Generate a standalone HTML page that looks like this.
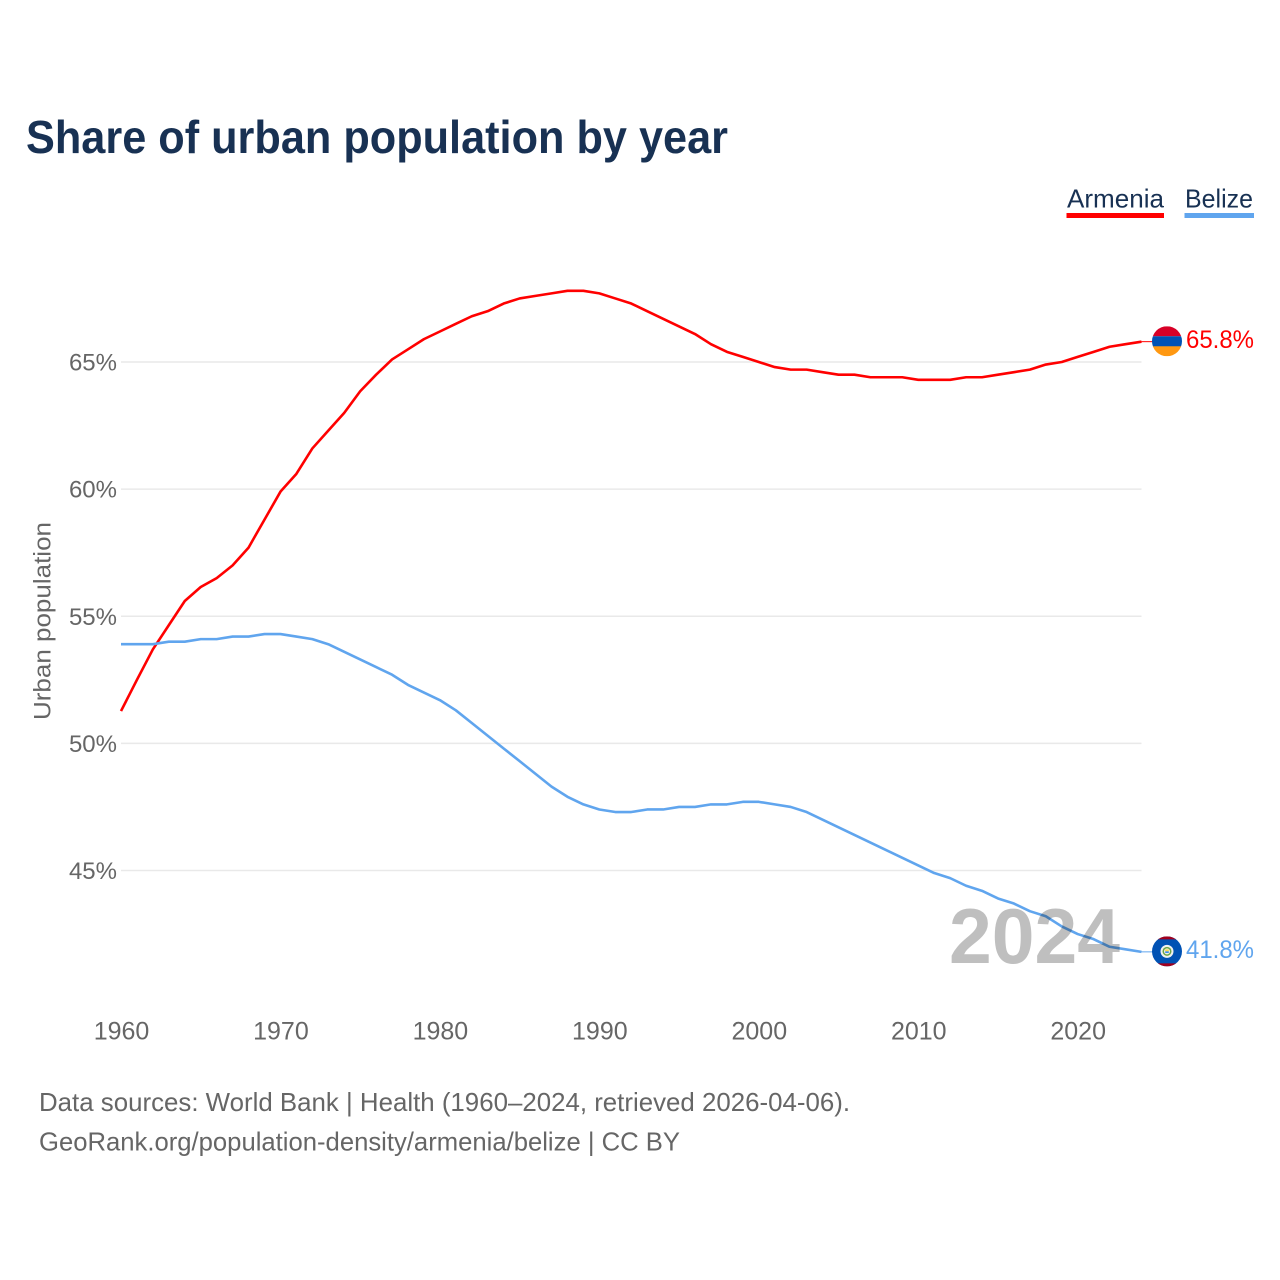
<!DOCTYPE html>
<html lang="en">
<head>
<meta charset="utf-8">
<title>Share of urban population by year</title>
<style>
html,body{margin:0;padding:0;background:#fff;}
svg{display:block;font-family:"Liberation Sans",sans-serif;}
</style>
</head>
<body>
<svg id="chart" xmlns="http://www.w3.org/2000/svg" width="1280" height="1280" viewBox="0 0 1280 1280">
  <rect x="0" y="0" width="1280" height="1280" fill="#ffffff"/>
  <text x="26" y="153" font-size="46" font-weight="700" fill="#183153" textLength="702" lengthAdjust="spacingAndGlyphs">Share of urban population by year</text>

  <g>
    <text x="1067" y="207.5" font-size="26" fill="#183153" textLength="97" lengthAdjust="spacingAndGlyphs">Armenia</text>
    <rect x="1066.5" y="213" width="97.5" height="5" fill="#ff0000"/>
  </g>
  <g>
    <text x="1185" y="207.5" font-size="26" fill="#183153" textLength="68" lengthAdjust="spacingAndGlyphs">Belize</text>
    <rect x="1184.5" y="213" width="69.5" height="5" fill="#60a5ee"/>
  </g>

  <g id="grid"></g>
  <g id="yticks"></g>
  <g id="xticks"></g>
  <text transform="translate(50.5 621) rotate(-90)" text-anchor="middle" font-size="24" fill="#666666" textLength="198" lengthAdjust="spacingAndGlyphs">Urban population</text>

  <g id="series"></g>
  <text x="1120" y="963" text-anchor="end" font-size="78" font-weight="700" fill="#bfbfbf" textLength="171" lengthAdjust="spacingAndGlyphs" style="mix-blend-mode:multiply">2024</text>

  <defs>
    <clipPath id="flag-clip"><circle cx="0" cy="0" r="15"/></clipPath>
  </defs>
  <g id="flag-armenia" clip-path="url(#flag-clip)">
    <rect x="-15" y="-15" width="30" height="10" fill="#d80027"/>
    <rect x="-15" y="-5" width="30" height="10.5" fill="#0052b4"/>
    <rect x="-15" y="5" width="30" height="10" fill="#ff9811"/>
  </g>
  <g id="flag-belize" clip-path="url(#flag-clip)">
    <rect x="-15" y="-15" width="30" height="30" fill="#0052b4"/>
    <rect x="-15" y="-15" width="30" height="3" fill="#a2001d"/>
    <rect x="-15" y="12" width="30" height="3" fill="#a2001d"/>
    <circle cx="0" cy="0" r="6.5" fill="#f0f0f0"/>
    <circle cx="0" cy="0" r="4.5" fill="#6da544"/>
    <circle cx="0" cy="0" r="3" fill="#f0f0f0"/>
    <rect x="-1.8" y="-2" width="3.6" height="2" fill="#ffda44"/>
    <rect x="-1.8" y="0" width="3.6" height="1.6" fill="#338af3"/>
  </g>
  <g id="value-labels"></g>

  <text x="39" y="1111" font-size="26" fill="#666666" textLength="811" lengthAdjust="spacingAndGlyphs">Data sources: World Bank | Health (1960–2024, retrieved 2026-04-06).</text>
  <text x="39" y="1150.5" font-size="26" fill="#666666" textLength="641" lengthAdjust="spacingAndGlyphs">GeoRank.org/population-density/armenia/belize | CC BY</text>
</svg>
<script>
const years = [1960,1961,1962,1963,1964,1965,1966,1967,1968,1969,1970,1971,1972,1973,1974,1975,1976,1977,1978,1979,1980,1981,1982,1983,1984,1985,1986,1987,1988,1989,1990,1991,1992,1993,1994,1995,1996,1997,1998,1999,2000,2001,2002,2003,2004,2005,2006,2007,2008,2009,2010,2011,2012,2013,2014,2015,2016,2017,2018,2019,2020,2021,2022,2023,2024];
const armenia = [51.27,52.5,53.7,54.65,55.6,56.15,56.5,57.0,57.7,58.8,59.9,60.6,61.6,62.3,63.0,63.85,64.5,65.1,65.5,65.9,66.2,66.5,66.8,67.0,67.3,67.5,67.6,67.7,67.8,67.8,67.7,67.5,67.3,67.0,66.7,66.4,66.1,65.7,65.4,65.2,65.0,64.8,64.7,64.7,64.6,64.5,64.5,64.4,64.4,64.4,64.3,64.3,64.3,64.4,64.4,64.5,64.6,64.7,64.9,65.0,65.2,65.4,65.6,65.7,65.8];
const belize = [53.9,53.9,53.9,54.0,54.0,54.1,54.1,54.2,54.2,54.3,54.3,54.2,54.1,53.9,53.6,53.3,53.0,52.7,52.3,52.0,51.7,51.3,50.8,50.3,49.8,49.3,48.8,48.3,47.9,47.6,47.4,47.3,47.3,47.4,47.4,47.5,47.5,47.6,47.6,47.7,47.7,47.6,47.5,47.3,47.0,46.7,46.4,46.1,45.8,45.5,45.2,44.9,44.7,44.4,44.2,43.9,43.7,43.4,43.2,42.8,42.5,42.3,42.0,41.9,41.8];
const xTickLabels = [1960,1970,1980,1990,2000,2010,2020];
const yTickLabels = [45,50,55,60,65];

const NS = 'http://www.w3.org/2000/svg';
function xScale(year) { return 121 + (year - 1960) * 15.945; }
function yScale(pct) { return 362 + (65 - pct) * 25.425; }
function make(tag, parent) {
  const el = document.createElementNS(NS, tag);
  parent.appendChild(el);
  return el;
}

const gridGroup = document.getElementById('grid');
const yTickGroup = document.getElementById('yticks');
yTickLabels.forEach(function (tick) {
  const line = make('line', gridGroup);
  
  
  line.setAttribute('x1', xScale(1960));
  line.setAttribute('x2', xScale(2024));
  line.setAttribute('y1', yScale(tick));
  line.setAttribute('y2', yScale(tick));
  line.setAttribute('stroke', '#e9e9e9');
  line.setAttribute('stroke-width', '1.5');
  const label = make('text', yTickGroup);
  
  
  label.setAttribute('x', 117);
  label.setAttribute('y', yScale(tick) + 8.5);
  label.setAttribute('text-anchor', 'end');
  label.setAttribute('font-size', '24');
  label.setAttribute('fill', '#666666');
  label.textContent = tick + '%';
});

const xTickGroup = document.getElementById('xticks');
xTickLabels.forEach(function (tick) {
  const label = make('text', xTickGroup);
  
  
  label.setAttribute('x', xScale(tick) + 0.5);
  label.setAttribute('y', 1039.5);
  label.setAttribute('text-anchor', 'middle');
  label.setAttribute('font-size', '25');
  label.setAttribute('fill', '#666666');
  label.textContent = tick;
});

function linePoints(values) {
  return values.map(function (v, i) {
    return xScale(years[i]).toFixed(2) + ',' + yScale(v).toFixed(2);
  }).join(' ');
}

const seriesGroup = document.getElementById('series');
const redLine = make('polyline', seriesGroup);


redLine.setAttribute('points', linePoints(armenia));
redLine.setAttribute('fill', 'none');
redLine.setAttribute('stroke', '#ff0000');
redLine.setAttribute('stroke-width', '2.6');
redLine.setAttribute('stroke-linejoin', 'round');

const blueLine = make('polyline', seriesGroup);


blueLine.setAttribute('points', linePoints(belize));
blueLine.setAttribute('fill', 'none');
blueLine.setAttribute('stroke', '#60a5ee');
blueLine.setAttribute('stroke-width', '2.6');
blueLine.setAttribute('stroke-linejoin', 'round');

const lastIndex = years.length - 1;
const lastX = xScale(years[lastIndex]);

const armeniaEnd = make('line', seriesGroup);


armeniaEnd.setAttribute('x1', lastX);
armeniaEnd.setAttribute('x2', lastX + 11);
armeniaEnd.setAttribute('y1', yScale(armenia[lastIndex]));
armeniaEnd.setAttribute('y2', yScale(armenia[lastIndex]));
armeniaEnd.setAttribute('stroke', '#ff0000');
armeniaEnd.setAttribute('stroke-width', '1');

const belizeEnd = make('line', seriesGroup);


belizeEnd.setAttribute('x1', lastX);
belizeEnd.setAttribute('x2', lastX + 11);
belizeEnd.setAttribute('y1', yScale(belize[lastIndex]));
belizeEnd.setAttribute('y2', yScale(belize[lastIndex]));
belizeEnd.setAttribute('stroke', '#60a5ee');
belizeEnd.setAttribute('stroke-width', '1');

document.getElementById('flag-armenia').setAttribute('transform', 'translate(1167 ' + (yScale(armenia[lastIndex]) - 0.4) + ')');
document.getElementById('flag-belize').setAttribute('transform', 'translate(1167 ' + (yScale(belize[lastIndex]) - 0.5) + ')');

const valueGroup = document.getElementById('value-labels');
const armeniaValue = make('text', valueGroup);


armeniaValue.setAttribute('x', 1186);
armeniaValue.setAttribute('y', yScale(armenia[lastIndex]) + 6.5);
armeniaValue.setAttribute('font-size', '25');
armeniaValue.setAttribute('fill', '#ff0000');
armeniaValue.setAttribute('textLength', '68');
armeniaValue.setAttribute('lengthAdjust', 'spacingAndGlyphs');
armeniaValue.textContent = armenia[lastIndex].toFixed(1) + '%';

const belizeValue = make('text', valueGroup);


belizeValue.setAttribute('x', 1186);
belizeValue.setAttribute('y', yScale(belize[lastIndex]) + 6);
belizeValue.setAttribute('font-size', '25');
belizeValue.setAttribute('fill', '#60a5ee');
belizeValue.setAttribute('textLength', '68');
belizeValue.setAttribute('lengthAdjust', 'spacingAndGlyphs');
belizeValue.textContent = belize[lastIndex].toFixed(1) + '%';
</script>
</body>
</html>
